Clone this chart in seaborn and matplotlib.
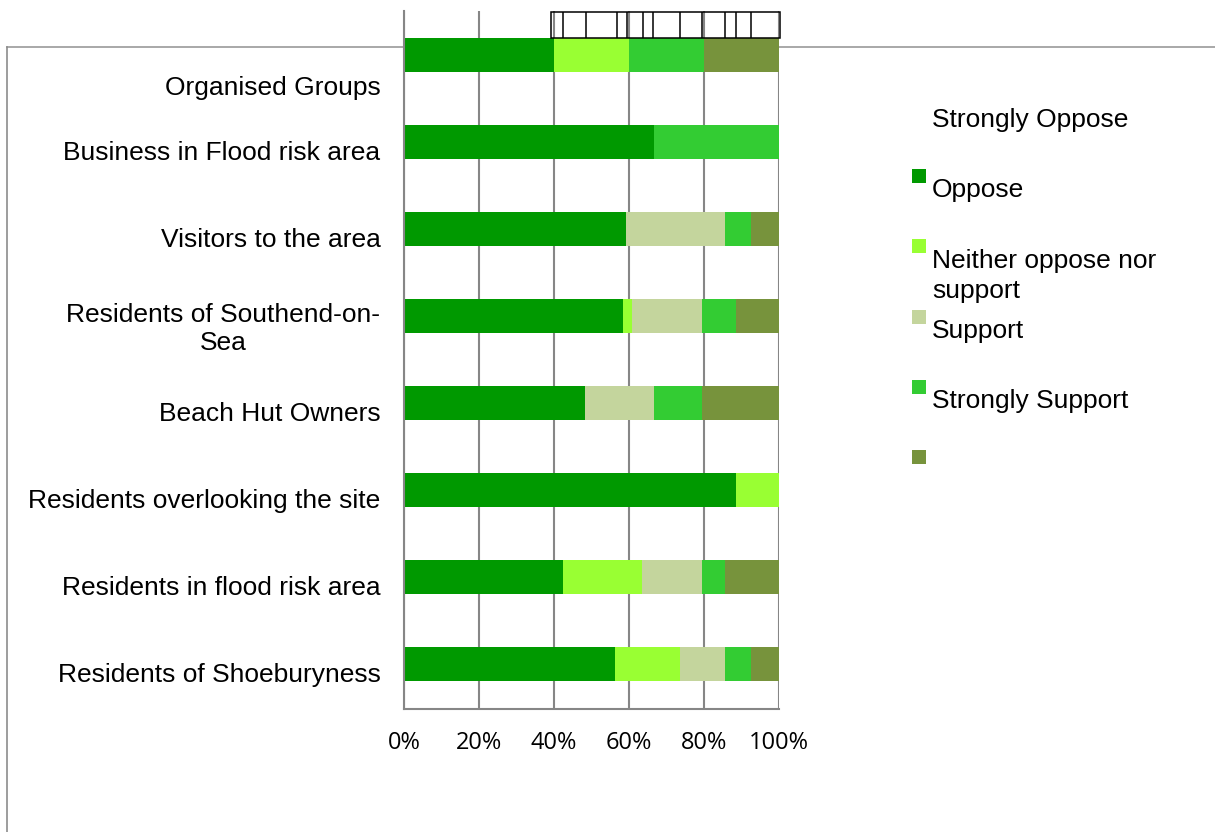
import numpy as np
import pandas as pd
import matplotlib
matplotlib.use("Agg")
import matplotlib.pyplot as plt
import matplotlib.transforms as mtransforms
from matplotlib.lines import Line2D
from matplotlib.patches import Rectangle
import seaborn as sns

# ---------------------------------------------------------------------------
# data (percent of respondents per group)
# ---------------------------------------------------------------------------
groups = ["Organised Groups", "Business in Flood risk area", "Visitors to the area",
          "Residents of Southend-on-\nSea", "Beach Hut Owners",
          "Residents overlooking the site", "Residents in flood risk area",
          "Residents of Shoeburyness"]
series = ["Strongly Oppose", "Oppose", "Neither oppose nor\nsupport", "Support",
          "Strongly Support"]
strongly_oppose = [40.0, 66.6, 59.1, 58.5, 48.4, 88.5, 42.5, 56.4]
oppose = [20.0, 0.0, 0.0, 2.2, 0.0, 11.5, 21.1, 17.1]
neither = [0.0, 0.0, 26.5, 18.7, 18.2, 0.0, 15.8, 12.1]
support = [20.0, 33.4, 6.9, 9.1, 12.8, 0.0, 6.2, 6.9]
strongly_support = [20.0, 0.0, 7.5, 11.5, 20.6, 0.0, 14.4, 7.5]
colors = ["#009900", "#99ff33", "#c4d59d", "#33cc33", "#77933c"]

# stray cell borders drawn above the top bar (percent positions)
strip_edges = [39.3, 100.4]
strip_lines = [42.4, 48.6, 56.7, 59.5, 63.8, 66.4, 73.5, 79.4, 85.6, 88.5, 92.5]

df = pd.DataFrame({"group": groups, series[0]: strongly_oppose, series[1]: oppose,
                   series[2]: neither, series[3]: support, series[4]: strongly_support})

label_font = "Liberation Sans"
tick_font = "Open Sans"
label_size = 19

fig = plt.figure(figsize=(12.15, 8.32), dpi=100)
W, H = 1215, 832
ax = fig.add_axes([404 / W, 1 - 709 / H, (779 - 404) / W, (709 - 11) / H])

# stacked bars: draw cumulative totals from the last series back to the first
cum = df[series].cumsum(axis=1)
for i in reversed(range(len(series))):
    sns.barplot(x=cum[series[i]], y=df["group"], orient="h", color=colors[i],
                saturation=1, width=0.4, linewidth=0, ax=ax, zorder=2)

ax.set_xlim(0, 100)
ax.set_ylim(7.517, -0.506)
ax.set_xlabel("")
ax.set_ylabel("")
ax.set_xticks(np.arange(0, 101, 20))
ax.set_xticklabels([f"{v}%" for v in range(0, 101, 20)], fontfamily=tick_font,
                   fontsize=17)
ax.xaxis.grid(True, color="#868686", linewidth=1.5, zorder=0)
ax.yaxis.grid(False)
ax.set_axisbelow(True)
ax.tick_params(axis="both", length=0)
ax.tick_params(axis="x", pad=16)
ax.tick_params(axis="y", pad=17)
for side in ["top", "right"]:
    ax.spines[side].set_visible(False)
for side in ["left", "bottom"]:
    ax.spines[side].set_color("#868686")
    ax.spines[side].set_linewidth(1.5)

for k, lab in enumerate(ax.get_yticklabels()):
    lab.set_fontfamily(label_font)
    lab.set_fontsize(label_size)
    lab.set_horizontalalignment("right")
    lab.set_multialignment("center")
    lab.set_linespacing(1.25)
    dy = -30 if k == 0 else -8
    lab.set_transform(lab.get_transform() +
                      mtransforms.ScaledTranslation(0, dy / 100, fig.dpi_scale_trans))

# box of cell borders above the top bar
y0, y1 = -0.49, -0.19
ax.add_patch(Rectangle((strip_edges[0], y0), strip_edges[1] - strip_edges[0], y1 - y0,
                       fill=False, edgecolor="black", linewidth=1.1, zorder=5,
                       clip_on=False))
ax.vlines(strip_lines, y0, y1, color="black", linewidth=1.1, zorder=5, clip_on=False)

# outer chart-area frame (partly hidden behind the plot)
fy = 1 - 47 / H
fx = 7 / W
fig.add_artist(Line2D([fx, 1], [fy, fy], color="#9a9a9a", linewidth=1.2, zorder=0))
fig.add_artist(Line2D([fx, fx], [0, fy], color="#8c8c8c", linewidth=1.2, zorder=0))
ax.set_zorder(1)

# legend, drawn by hand: markers sit one row below their labels
row_step = 70.3
line_gap = 30
for k, name in enumerate(series):
    for j, part in enumerate(name.split("\n")):
        base = 127 + row_step * k + line_gap * j
        fig.text(932 / W, 1 - base / H, part, fontfamily=label_font,
                 fontsize=label_size, va="baseline", ha="left")
for k, c in enumerate(colors):
    top = 169 + row_step * k
    fig.add_artist(Rectangle((912 / W, 1 - (top + 14) / H), 14 / W, 14 / H,
                             facecolor=c, edgecolor="none",
                             transform=fig.transFigure))

fig.savefig("out.png", dpi=100, facecolor="white")
